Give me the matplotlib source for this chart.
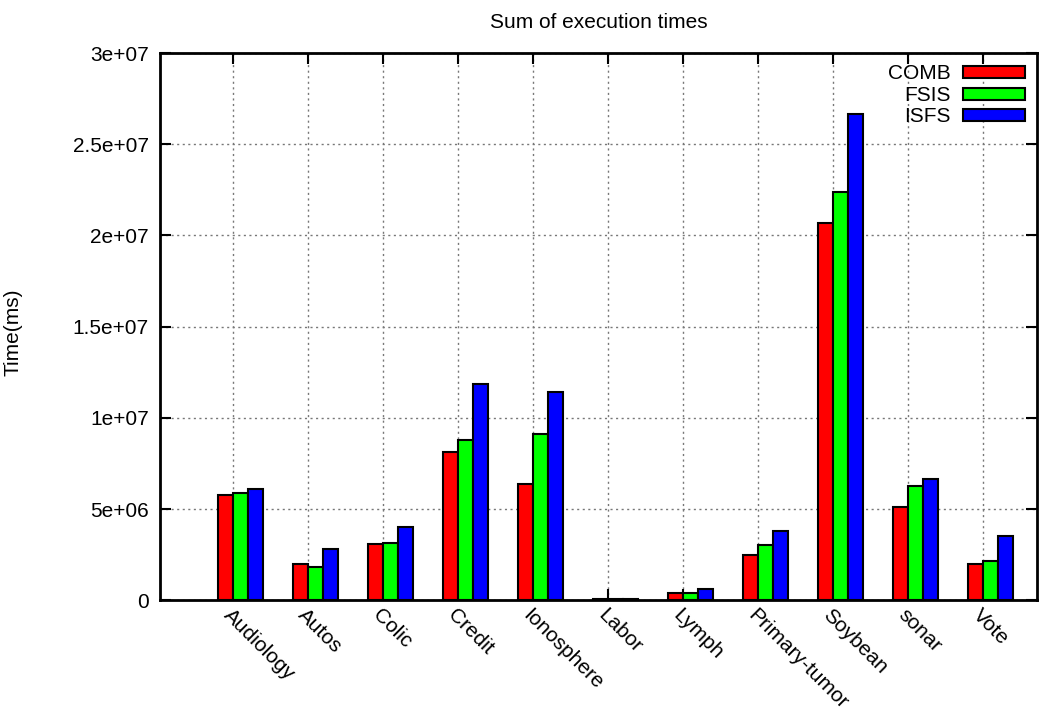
import numpy as np
import matplotlib
matplotlib.use('Agg')
import matplotlib.pyplot as plt

plt.rcParams['font.family'] = ['Liberation Sans', 'DejaVu Sans']

datasets = ['Audiology', 'Autos', 'Colic', 'Credit', 'Ionosphere', 'Labor',
            'Lymph', 'Primary-tumor', 'Soybean', 'sonar', 'Vote']
comb = [5.78e6, 2.01e6, 3.07e6, 8.14e6, 6.36e6, 0.06e6, 0.37e6, 2.50e6, 20.66e6, 5.12e6, 1.97e6]
fsis = [5.90e6, 1.83e6, 3.13e6, 8.76e6, 9.10e6, 0.05e6, 0.42e6, 3.02e6, 22.40e6, 6.24e6, 2.14e6]
isfs = [6.09e6, 2.82e6, 4.02e6, 11.83e6, 11.41e6, 0.07e6, 0.59e6, 3.78e6, 26.67e6, 6.62e6, 3.53e6]
series_names = ['COMB', 'FSIS', 'ISFS']
y_ticks = [0, 5e6, 1e7, 1.5e7, 2e7, 2.5e7, 3e7]
y_tick_labels = ['0', '5e+06', '1e+07', '1.5e+07', '2e+07', '2.5e+07', '3e+07']

colors = ['#ff0000', '#00ff00', '#0000ff']
offsets = [-0.1, 0.1, 0.3]
w = 0.2

fig = plt.figure(figsize=(10.39, 7.07), dpi=100)
ax = fig.add_axes([0.154, 0.151, 0.844, 0.774])

x = np.arange(len(datasets))
for vals, name, c, off in zip([comb, fsis, isfs], series_names, colors, offsets):
    ax.bar(x + off, vals, width=w, color=c, edgecolor='black', linewidth=1.5,
           label=name, zorder=3)

ax.set_xlim(-0.973, 10.72)
ax.set_ylim(0, 3e7)
ax.set_yticks(y_ticks)
ax.set_yticklabels(y_tick_labels, fontsize=15)
ax.set_xticks(x)
ax.set_xticklabels(datasets, fontsize=15, rotation=-45, ha='left', va='top',
                   rotation_mode='anchor')
ax.tick_params(direction='in', top=True, right=True, length=8, width=1.5, pad=8)
ax.tick_params(axis='x', pad=4)
for s in ax.spines.values():
    s.set_linewidth(2)
ax.grid(True, linestyle=(0, (1.5, 2.5)), color='#777777', linewidth=1, zorder=0)
ax.set_axisbelow(True)

ax.set_title('Sum of execution times', fontsize=15, pad=18)
ax.set_ylabel('Time(ms)', fontsize=15)
ax.yaxis.set_label_coords(-0.157, 0.49)

leg = ax.legend(loc='upper right', markerfirst=False, frameon=False, fontsize=15,
                handlelength=3.0, handleheight=0.5, labelspacing=0.12,
                handletextpad=0.6, borderaxespad=0.3, borderpad=0.25)
for t in leg.get_texts():
    t.set_ha('right')

fig.savefig('out.png', dpi=100)
